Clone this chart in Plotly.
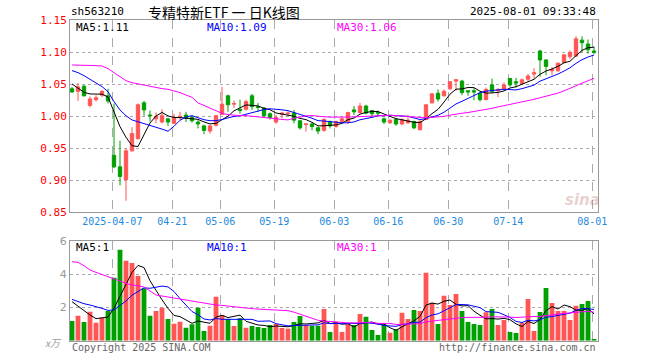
import plotly.graph_objects as go
import pandas as pd

# ---------------- data ----------------
holidays = ["2025-04-04", "2025-05-01", "2025-05-02", "2025-05-05", "2025-06-02"]
dates = [d.strftime("%Y-%m-%d") for d in pd.bdate_range("2025-03-26", "2025-08-01")
         if d.strftime("%Y-%m-%d") not in holidays]

open_ = [1.043, 1.039, 1.047, 1.017, 1.026, 1.033, 1.032, 0.939, 0.921, 0.901,
         0.946, 0.965, 1.021, 1.002, 0.996, 0.991, 0.996, 0.989, 0.998, 1.002,
         0.998, 0.991, 0.985, 0.977, 0.986, 1.003, 1.032, 1.019, 1.011, 1.011,
         1.032, 1.015, 1.013, 1.004, 0.991, 1.003, 1.004, 1.005, 0.993, 0.987,
         0.988, 0.982, 0.978, 0.992, 0.984, 0.992, 0.992, 1.010, 1.006, 1.016,
         1.009, 1.006, 0.996, 0.990, 0.995, 0.988, 0.990, 0.992, 0.979, 0.995,
         1.021, 1.036, 1.032, 1.043, 1.055, 1.055, 1.040, 1.040, 1.036, 1.026,
         1.049, 1.040, 1.042, 1.059, 1.054, 1.051, 1.058, 1.066, 1.102, 1.088,
         1.071, 1.071, 1.084, 1.093, 1.094, 1.119, 1.113, 1.102]
high = [1.046, 1.052, 1.049, 1.031, 1.033, 1.041, 1.043, 1.020, 0.962, 0.950,
        0.983, 1.020, 1.024, 1.009, 1.006, 1.011, 0.997, 1.004, 1.007, 1.007,
        1.002, 0.994, 0.987, 0.987, 1.002, 1.046, 1.034, 1.025, 1.026, 1.026,
        1.035, 1.021, 1.014, 1.006, 1.002, 1.007, 1.008, 1.010, 0.994, 0.989,
        0.990, 0.984, 0.997, 0.993, 0.993, 0.998, 1.007, 1.016, 1.021, 1.018,
        1.010, 1.009, 0.998, 0.995, 0.997, 0.997, 1.002, 0.993, 0.994, 1.018,
        1.037, 1.042, 1.042, 1.055, 1.058, 1.057, 1.040, 1.044, 1.038, 1.045,
        1.059, 1.044, 1.053, 1.060, 1.060, 1.059, 1.066, 1.075, 1.104, 1.089,
        1.077, 1.084, 1.097, 1.103, 1.125, 1.125, 1.120, 1.109]
low = [1.037, 1.024, 1.031, 1.014, 1.023, 1.030, 1.020, 0.919, 0.892, 0.868,
       0.945, 0.964, 1.001, 0.992, 0.989, 0.989, 0.985, 0.988, 0.994, 0.991,
       0.990, 0.981, 0.972, 0.973, 0.984, 1.002, 1.007, 1.013, 1.004, 1.009,
       1.010, 1.007, 0.998, 0.995, 0.988, 0.997, 1.000, 0.989, 0.979, 0.976,
       0.978, 0.972, 0.976, 0.981, 0.982, 0.989, 0.988, 1.002, 1.004, 1.003,
       1.000, 1.001, 0.988, 0.988, 0.985, 0.986, 0.988, 0.980, 0.978, 0.994,
       1.020, 1.023, 1.031, 1.041, 1.040, 1.033, 1.032, 1.025, 1.023, 1.025,
       1.036, 1.030, 1.041, 1.046, 1.045, 1.049, 1.054, 1.059, 1.062, 1.064,
       1.064, 1.070, 1.083, 1.089, 1.093, 1.100, 1.098, 1.097]
close = [1.038, 1.046, 1.032, 1.027, 1.029, 1.039, 1.024, 0.921, 0.906, 0.946,
         0.973, 1.018, 1.010, 1.001, 1.000, 1.001, 0.991, 0.998, 1.000, 0.997,
         0.993, 0.988, 0.978, 0.985, 1.001, 1.019, 1.018, 1.020, 1.009, 1.023,
         1.015, 1.014, 1.001, 0.998, 0.998, 1.005, 1.005, 0.994, 0.982, 0.988,
         0.984, 0.977, 0.995, 0.985, 0.992, 0.996, 1.006, 1.007, 1.016, 1.005,
         1.004, 1.005, 0.991, 0.994, 0.988, 0.995, 0.994, 0.982, 0.992, 1.018,
         1.035, 1.027, 1.039, 1.054, 1.057, 1.037, 1.038, 1.038, 1.026, 1.042,
         1.039, 1.042, 1.049, 1.049, 1.052, 1.057, 1.063, 1.068, 1.088, 1.078,
         1.073, 1.083, 1.096, 1.100, 1.121, 1.115, 1.104, 1.100]
volume = [1.18, 1.50, 1.12, 1.74, 1.08, 1.38, 1.78, 3.78, 5.46, 4.80,
          4.66, 3.88, 3.14, 1.50, 1.78, 1.98, 1.30, 1.02, 1.14, 0.78,
          0.98, 1.98, 0.58, 0.90, 2.64, 1.52, 1.30, 0.88, 1.34, 0.78,
          0.88, 0.82, 0.76, 0.94, 1.00, 0.76, 0.72, 1.12, 1.48, 0.94,
          0.90, 0.90, 1.90, 0.52, 1.14, 0.52, 0.98, 0.94, 1.60, 1.44,
          0.64, 0.34, 0.98, 0.48, 0.68, 1.68, 1.30, 1.84, 1.78, 4.08,
          2.28, 1.00, 2.70, 2.14, 2.80, 1.78, 1.12, 1.00, 0.94, 1.70,
          1.90, 0.94, 1.24, 0.52, 0.46, 1.08, 2.50, 0.58, 1.72, 3.16,
          2.26, 1.78, 1.78, 1.24, 2.10, 2.20, 2.38, 0.10]

# moving-average values read for the first bars (their windows start before the shown range)
ma5_head = [1.0505, 1.0437, 1.0375, 1.0349]
ma10_head = [1.0714, 1.0682, 1.0635, 1.0578, 1.0516, 1.0464, 1.0385, 1.0229, 1.0099]
ma30_head = [1.0802, 1.0802, 1.0797, 1.0792, 1.0792, 1.0786, 1.0745, 1.0682, 1.0615,
             1.0557, 1.0526, 1.0505, 1.0484, 1.0464, 1.0448, 1.0432, 1.0422, 1.0401,
             1.0370, 1.0333, 1.0297, 1.0210, 1.0167, 1.0135, 1.0089, 1.0047, 1.0026,
             1.0016, 1.0010]
vma5_head = [2.34, 2.08, 1.78, 1.54]
vma10_head = [2.48, 2.34, 2.22, 2.14, 2.06, 1.94, 1.82, 1.84, 2.12]
vma30_head = [4.74, 4.70, 4.50, 4.24, 4.10, 3.98, 3.84, 3.74, 3.58, 3.44, 3.34, 3.30,
              3.22, 2.98, 2.74, 2.68, 2.62, 2.54, 2.50, 2.46, 2.38, 2.30, 2.24, 2.22,
              2.14, 2.12, 2.08, 2.04, 2.00]

tick_dates = ["2025-04-07", "2025-04-21", "2025-05-06", "2025-05-19", "2025-06-03",
              "2025-06-16", "2025-06-30", "2025-07-14", "2025-08-01"]
price_ticks = [0.85, 0.90, 0.95, 1.00, 1.05, 1.10, 1.15]
vol_ticks = [2, 4, 6]

header_code = "sh563210"
header_title = "专精特新ETF 一 日K线图"
header_time = "2025-08-01 09:33:48"
ma_price_text = ["MA5:1.11", "MA10:1.09", "MA30:1.06"]
ma_vol_text = ["MA5:1", "MA10:1", "MA30:1"]


def moving(values, head, win):
    out = list(head)
    for i in range(len(head), len(values)):
        out.append(sum(values[i - win + 1:i + 1]) / win)
    return out


n = len(close)
x = list(range(n))
ma5 = moving(close, ma5_head, 5)
ma10 = moving(close, ma10_head, 10)
ma30 = moving(close, ma30_head, 30)
vma5 = moving(volume, vma5_head, 5)
vma10 = moving(volume, vma10_head, 10)
vma30 = moving(volume, vma30_head, 30)

RED = "#ff5555"
GREEN = "#00a000"
MA_COLORS = ["#000000", "#0000ff", "#ff00ff"]
MONO = "DejaVu Sans Mono"

W, H = 660, 360
PX0, PX1 = 70, 597.7
MAIN_TOP, MAIN_BOT = 20.3, 212.3
VOL_TOP, VOL_BOT = 240.7, 340.7


def fx(p):
    return p / W


def fy(p):
    return 1 - p / H


fig = go.Figure()
fig.add_trace(go.Candlestick(
    x=x, open=open_, high=high, low=low, close=close,
    increasing=dict(line=dict(color=RED, width=1), fillcolor=RED),
    decreasing=dict(line=dict(color=GREEN, width=1), fillcolor=GREEN),
    whiskerwidth=0, hoverinfo="skip", showlegend=False, xaxis="x", yaxis="y"))
for series, col in zip([ma5, ma10, ma30], MA_COLORS):
    fig.add_trace(go.Scatter(x=x, y=series, mode="lines", line=dict(color=col, width=1),
                             hoverinfo="skip", showlegend=False, xaxis="x", yaxis="y"))

vol_colors = [RED if c >= o else GREEN for o, c in zip(open_, close)]
fig.add_trace(go.Bar(x=x, y=volume, marker=dict(color=vol_colors, line=dict(width=0)),
                     width=0.8, hoverinfo="skip", showlegend=False, xaxis="x2", yaxis="y2"))
for series, col in zip([vma5, vma10, vma30], MA_COLORS):
    fig.add_trace(go.Scatter(x=x, y=series, mode="lines", line=dict(color=col, width=1),
                             hoverinfo="skip", showlegend=False, xaxis="x2", yaxis="y2"))

tick_pos = [dates.index(d) - 0.28 for d in tick_dates]
tick_text = [tick_dates[0]] + [d[5:] for d in tick_dates[1:]]
x_range = [(PX0 - 72) / 6, (PX1 - 72) / 6]

common_x = dict(domain=[fx(PX0), fx(PX1)], range=x_range, showgrid=True, gridcolor="#aaaaaa",
                griddash="dash", gridwidth=1, showline=True, mirror=True, linecolor="#999999",
                linewidth=1, ticks="", zeroline=False, fixedrange=True, automargin=False)

fig.update_layout(
    width=W, height=H, margin=dict(l=0, r=0, t=0, b=0, pad=0, autoexpand=False),
    paper_bgcolor="white", plot_bgcolor="white", showlegend=False, boxgap=0.2,
    xaxis=dict(common_x, anchor="y", tickvals=tick_pos, ticktext=tick_text,
               tickfont=dict(family=MONO, size=10, color="#1e8ae0"),
               rangeslider=dict(visible=False)),
    yaxis=dict(domain=[fy(MAIN_BOT), fy(MAIN_TOP)], range=[0.85, 1.15], anchor="x",
               tickvals=price_ticks, ticktext=["%.2f" % v for v in price_ticks],
               tickfont=dict(family=MONO, size=11, color="#ff0000"),
               showgrid=True, gridcolor="#aaaaaa", griddash="dot", gridwidth=1,
               showline=True, mirror=True, linecolor="#999999", linewidth=1,
               ticks="", zeroline=False, automargin=False, fixedrange=True),
    xaxis2=dict(common_x, anchor="y2", tickvals=tick_pos, showticklabels=False),
    yaxis2=dict(domain=[fy(VOL_BOT), fy(VOL_TOP)], range=[0, 6], anchor="x2",
                tickvals=vol_ticks, ticktext=[str(v) for v in vol_ticks],
                tickfont=dict(family="DejaVu Sans", size=11, color="#999999"),
                showgrid=True, gridcolor="#aaaaaa", griddash="dot", gridwidth=1,
                showline=True, mirror=True, linecolor="#999999", linewidth=1,
                ticks="", zeroline=False, automargin=False, fixedrange=True),
)


def note(text, px, py, xanchor="left", size=10, color="#000000", family=MONO):
    fig.add_annotation(text=text, x=fx(px), y=fy(py), xref="paper", yref="paper",
                       xanchor=xanchor, yanchor="middle", showarrow=False,
                       font=dict(family=family, size=size, color=color))


note(header_code, 69, 12, size=11)
note(header_title, 224, 12, xanchor="center", size=14, family="Noto Sans CJK SC")
note(header_time, 598, 12, xanchor="right", size=11)
for txt, px, col in zip(ma_price_text, [74, 205, 335], MA_COLORS):
    note(txt, px, 28, size=11, color=col)
for txt, px, col in zip(ma_vol_text, [74, 205, 335], MA_COLORS):
    note(txt, px, 247, size=11, color=col)
note("Copyright 2025 SINA.COM", 70, 347, size=10, color="#666666")
note("http://finance.sina.com.cn", 598, 347, xanchor="right", size=10, color="#666666")
note("<i>x万</i>", 64, 342, xanchor="right", size=10, color="#999999", family="Noto Sans CJK SC")
note("<b><i>sina</i></b>", 582, 200, xanchor="center", size=15, color="rgba(190,120,120,0.35)",
     family="DejaVu Sans")

fig.write_html("out.html", config={"displayModeBar": False, "staticPlot": True},
               post_script="document.body.style.margin='0px';document.body.style.overflow='hidden';")
